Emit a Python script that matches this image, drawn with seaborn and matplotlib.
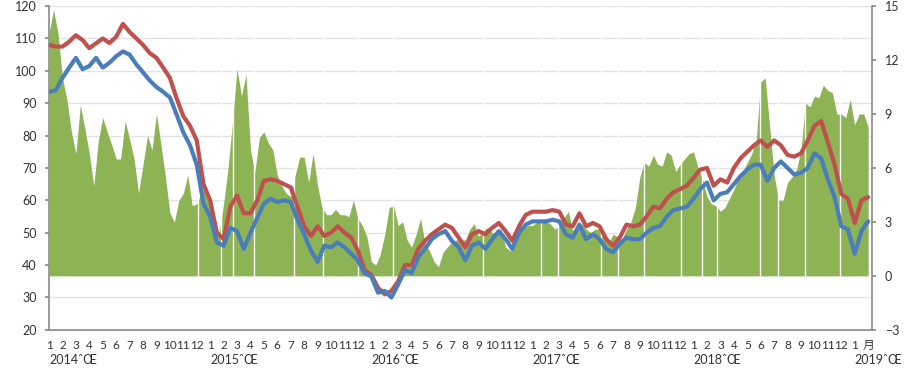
import numpy as np
import pandas as pd
import matplotlib
matplotlib.use("Agg")
import matplotlib.pyplot as plt
import matplotlib.transforms as mtransforms
import seaborn as sns

# =====================================================
# DATA
# =====================================================

# red line, left axis, two readings per month from Jan 2014
brent = [
    108, 107.5, 107.5, 109, 111, 109.5, 107, 108.5, 110, 108.6,
    110.5, 114.5, 112, 110, 108, 105.5, 104, 101, 97.8, 91.5,
    86, 83, 78.5, 65, 60, 50, 48, 58, 61.5, 56,
    56, 60, 66, 66.5, 66, 65, 64, 58, 52, 49,
    52, 49, 50, 52, 50, 48.5, 44.5, 38.5, 37, 33,
    31, 32, 35, 40, 40, 45, 47.5, 49.5, 51, 52.5,
    51.5, 48.5, 45.5, 49.5, 50.5, 49.5, 51.5, 53, 50.5, 47.5,
    52, 55.5, 56.5, 56.5, 56.5, 57, 56.5, 52.5, 52, 56,
    52, 53, 52, 48, 46, 48.5, 52.5, 52, 52.5, 55,
    58, 57.5, 60.5, 62.5, 63.5, 64.5, 67, 69.5, 70, 64.5,
    66.5, 65.5, 70, 73, 75, 77, 78.5, 76.5, 78.5, 77,
    74, 73.5, 74.5, 78.5, 83, 84.5, 78, 71, 62, 60.5,
    53, 60, 61,
]

# blue line, left axis, same dates
wti = [
    93.5, 94, 97.8, 101, 104, 100.5, 101.5, 104, 101, 102.5,
    104.5, 106, 105, 102, 99.5, 97, 95, 93.5, 91.8, 86.5,
    81, 77, 71, 59, 55, 47, 46, 51.5, 50.5, 45,
    50, 54.5, 59, 60.5, 59.5, 60, 59.5, 54, 49.5, 44.5,
    41, 46, 45.5, 47, 45.5, 43.5, 41.5, 37.5, 36.5, 31.5,
    32, 30, 34, 38.5, 37.5, 42.5, 45, 48, 49.5, 50.5,
    47.5, 45.5, 41.5, 46, 47, 45, 48, 50.5, 48, 45,
    50, 52.5, 53.5, 53.5, 53.5, 54, 53.5, 49.5, 48.5, 52.5,
    48, 49.5, 48, 45, 44, 46.5, 48.5, 48, 48, 50,
    51.5, 52, 55, 57, 57.5, 58, 60.5, 63.5, 65.5, 60,
    62, 62.5, 65, 67.5, 69.5, 71, 71, 66, 70, 72,
    70, 68, 68.5, 70, 74.5, 73, 66.5, 61, 52, 51,
    43.5, 50.5, 53.5,
]

# green area, right axis, three readings per month from Jan 2014
spread = [
    13.5, 14.8, 13.5, 11.0, 9.8, 8.0, 6.8, 9.5, 8.2, 6.8,
    5.0, 7.5, 8.8, 8.0, 7.3, 6.5, 6.5, 8.6, 7.6, 6.5,
    4.6, 6.2, 7.8, 7.0, 9.0, 7.3, 5.5, 3.5, 3.0, 4.2,
    4.6, 5.6, 3.9, 4.0, 4.6, 5.0, 3.8, 3.0, 2.4, 4.0,
    6.0, 8.6, 11.5, 10.0, 11.2, 7.0, 5.8, 7.7, 8.0, 7.4,
    7.0, 5.6, 5.0, 4.6, 4.4, 5.6, 6.6, 6.6, 5.2, 6.8,
    5.0, 3.8, 3.4, 3.4, 3.7, 3.4, 3.4, 3.3, 4.2, 3.2,
    2.8, 2.2, 0.8, 0.6, 1.2, 2.3, 3.8, 3.9, 2.8, 3.0,
    2.0, 1.6, 2.3, 3.2, 1.8, 1.4, 0.8, 0.5, 1.3, 1.6,
    1.9, 2.0, 2.0, 2.0, 2.6, 2.9, 2.2, 2.5, 2.7, 2.4,
    2.3, 2.6, 1.6, 1.4, 1.6, 2.4, 2.7, 2.8, 2.8, 3.0,
    3.0, 3.0, 2.9, 2.6, 2.8, 3.2, 3.6, 2.5, 2.7, 2.9,
    2.6, 2.4, 2.6, 2.6, 2.2, 1.8, 2.3, 2.2, 2.0, 2.6,
    3.0, 3.8, 5.5, 6.3, 6.1, 6.7, 6.2, 6.1, 6.9, 6.7,
    5.8, 6.2, 6.5, 6.8, 6.9, 6.0, 5.4, 4.4, 4.0, 3.9,
    3.6, 3.8, 4.3, 4.8, 5.4, 5.8, 6.3, 6.8, 7.6, 10.8,
    11.0, 8.3, 5.6, 4.2, 4.2, 5.2, 5.5, 5.9, 7.0, 9.6,
    9.4, 10.0, 9.9, 10.6, 10.3, 10.2, 9.0, 9.0, 8.8, 9.8,
    8.4, 9.0, 9.0, 8.3,
]

# days with no spread value (white slits in the green area), in months from Jan 2014
gap_months = [
    11.07, 12.78, 13.67, 15.23, 18.28, 20.43, 23.03, 25.63, 32.32, 36.63,
    37.89, 41.08, 42.35, 44.28, 47.03, 48.66, 49.77, 52.97, 54.31, 56.32,
    58.92,
]

month_labels = [str(i % 12 + 1) for i in range(61)] + ["月"]
year_labels = ["2014ˆŒ", "2015ˆŒ", "2016ˆŒ", "2017ˆŒ", "2018ˆŒ", "2019ˆŒ"]

left_ticks = [20, 30, 40, 50, 60, 70, 80, 90, 100, 110, 120]
right_ticks = [-3, 0, 3, 6, 9, 12, 15]

# =====================================================
# FRAMES
# =====================================================

line_df = pd.DataFrame({
    "month": np.arange(len(brent)) / 2,
    "brent": brent,
    "wti": wti,
})
spread_df = pd.DataFrame({
    "month": np.arange(len(spread)) / 3,
    "spread": spread,
})

# =====================================================
# PLOT
# =====================================================

sns.set_theme(style="white")
plt.rcParams["font.family"] = ["Lato", "Noto Sans CJK SC", "DejaVu Sans"]

GREEN = "#8db355"
RED = "#c0504d"
BLUE = "#4a7ebb"
AXIS = "#8a8a8a"
TEXT = "#333333"

fig, ax = plt.subplots(figsize=(9.2, 3.8), dpi=100)
fig.subplots_adjust(left=0.0533, right=0.948, top=0.984, bottom=0.132)

# left axis: grid + ticks
ax.set_ylim(20, 120)
ax.set_xlim(0.15, 61.3)
ax.set_yticks(left_ticks)
ax.grid(axis="y", color="#e3e3e3", lw=1)
ax.grid(axis="x", visible=False)

# right axis: spread area
axr = ax.twinx()
axr.fill_between(spread_df["month"], 0, spread_df["spread"], color=GREEN, lw=0)
axr.vlines(gap_months, 0, 15, color="white", lw=1)
axr.set_ylim(-3, 15)
axr.set_yticks(right_ticks)
axr.grid(False)

# lines on top
axl = ax.twinx()
sns.lineplot(data=line_df, x="month", y="brent", color=RED, lw=3, ax=axl)
sns.lineplot(data=line_df, x="month", y="wti", color=BLUE, lw=3, ax=axl)
axl.set_ylim(20, 120)
axl.set_xlim(0.15, 61.3)
axl.axis("off")

# ticks / spines
ax.set_xticks(range(len(month_labels)))
ax.set_xticklabels(month_labels)
ax.tick_params(axis="x", length=3, color=AXIS, labelsize=8.5, labelcolor=TEXT, pad=4)
ax.tick_params(axis="y", length=3, color=AXIS, labelsize=9, labelcolor=TEXT, pad=6, left=True)
axr.tick_params(axis="y", length=3, color=AXIS, labelsize=9, labelcolor=TEXT, pad=6, right=True)
ax.set_xlabel("")
ax.set_ylabel("")
axr.set_ylabel("")

for a in (ax, axr):
    a.spines["top"].set_visible(False)
    for side in ("left", "right", "bottom"):
        a.spines[side].set_color(AXIS)
        a.spines[side].set_linewidth(1.2)
ax.spines["right"].set_visible(False)
axr.spines["left"].set_visible(False)
axr.spines["bottom"].set_visible(False)

# year labels under the month ticks
trans = mtransforms.blended_transform_factory(ax.transData, ax.transAxes)
for i, label in enumerate(year_labels):
    ax.text(i * 12, -0.093, label, transform=trans, ha="left", va="center",
            fontsize=9, color=TEXT)

fig.savefig("out.png", dpi=100)
